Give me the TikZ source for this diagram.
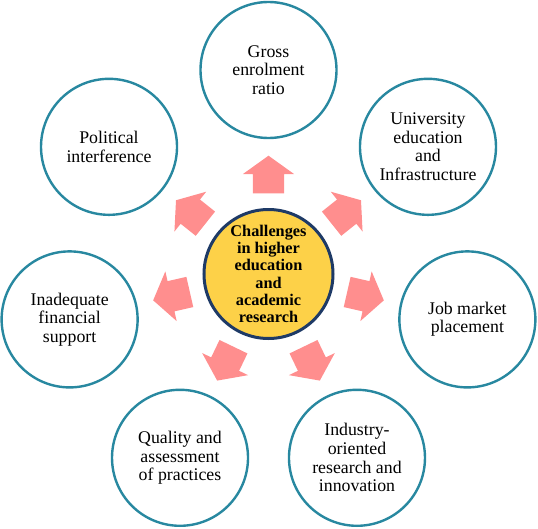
\documentclass[tikz,border=0pt]{standalone}
\usepackage{fontspec}
\setmainfont{Liberation Serif}
\definecolor{tealline}{RGB}{40,136,160}
\definecolor{pinkarrow}{RGB}{255,142,142}
\definecolor{goldfill}{RGB}{253,209,72}
\definecolor{navyline}{RGB}{30,58,102}
\begin{document}
\begin{tikzpicture}[x=1pt,y=1pt,
  outer/.style={circle, draw=tealline, line width=2.4pt, minimum size=136pt, inner sep=0pt, align=center, fill=white, font=\fontsize{17.8}{18.6}\selectfont},
  hub/.style={circle, draw=navyline, line width=3pt, fill=goldfill, minimum size=129pt, inner sep=0pt, align=center, font=\bfseries\fontsize{16.3}{17.2}\selectfont},
  blockarrow/.style={fill=pinkarrow, draw=none}]
\useasboundingbox (-268.5,-254) rectangle (269.5,274);
\node[hub] (c) at (0,0) {Challenges\\in higher\\education\\and\\academic\\research};
\node[outer] (o1) at (90:204) {Gross\\enrolment\\ratio};
\node[outer] (o2) at (38.57:204) {University\\education\\and\\Infrastructure};
\node[outer] (o3) at (-12.86:204) {Job market\\placement};
\node[outer] (o4) at (-64.29:204) {Industry-\\oriented\\research and\\innovation};
\node[outer] (o5) at (-115.71:204) {Quality and\\assessment\\of practices};
\node[outer] (o6) at (-167.14:204) {Inadequate\\financial\\support};
\node[outer] (o7) at (141.43:204) {Political\\interference};
\foreach \a in {90, 38.57, -12.86, -64.29, -115.71, -167.14, 141.43} {
  \fill[blockarrow, rotate=\a] (80.7,-15.5) -- (100,-15.5) -- (100,-25.5) -- (118.3,0) -- (100,25.5) -- (100,15.5) -- (80.7,15.5) -- cycle;
}
\end{tikzpicture}
\end{document}
